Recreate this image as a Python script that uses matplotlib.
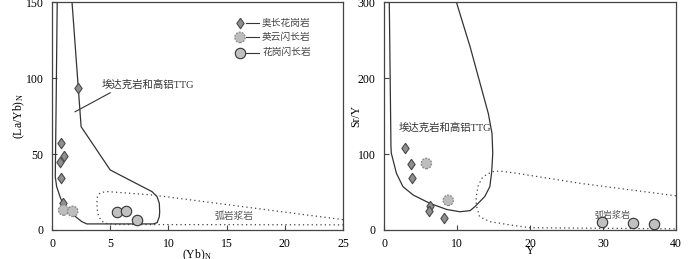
import matplotlib
matplotlib.use("Agg")
import matplotlib.pyplot as plt

# ---------------- data ----------------
# left panel: (Yb)N vs (La/Yb)N
trond_yb = [2.24, 0.75, 1.03, 0.66, 0.80, 0.95]
trond_layb = [93.7, 57.4, 48.6, 44.7, 34.4, 18.0]
tonal_yb = [1.0, 1.78]
tonal_layb = [13.1, 12.3]
grano_yb = [5.55, 6.32, 7.3]
grano_layb = [11.8, 12.3, 6.6]

# right panel: Y vs Sr/Y
trond_y = [2.84, 3.66, 3.8, 6.3, 6.1, 8.2]
trond_sry = [108, 87, 69, 31, 25, 15.6]
tonal_y = [5.8, 8.8]
tonal_sry = [87.5, 39]
grano_y = [29.9, 34.1, 37.0]
grano_sry = [10, 8.8, 7.5]

# field boundaries (left)
ttg_l_x = [0.45, 0.35, 0.28, 0.40, 0.69, 0.97, 1.40, 1.84, 2.56, 2.99, 8.7, 9.03, 9.22, 9.25, 9.22, 9.03, 8.6, 5.0, 2.5, 1.70]
ttg_l_y = [152, 80, 35, 28.5, 21.9, 16.4, 12.8, 9.9, 5.5, 4.0, 4.0, 4.8, 8.8, 12.0, 17.5, 21.9, 25.2, 39.5, 68, 152]
arc_l_x = [25, 8.7, 4.7, 4.14, 3.9, 3.85, 3.9, 4.0, 4.3, 4.57, 5.5, 25]
arc_l_y = [6.8, 23.0, 25.3, 24.5, 22.0, 18.0, 13.0, 8.8, 5.8, 4.4, 3.6, 3.4]

# field boundaries (right)
ttg_r_x = [0.72, 0.95, 1.0, 1.7, 2.6, 4.0, 6.3, 8.6, 10.4, 11.8, 12.45, 13.8, 14.5, 14.75, 14.9, 14.8, 14.3, 11.8, 9.85]
ttg_r_y = [302, 110, 101, 74.6, 57, 46, 35, 27, 24, 25.5, 30.7, 44, 57, 76, 101, 127, 153, 241, 302]
arc_r_x = [40, 26.9, 18.2, 15.9, 15.0, 14.1, 13.4, 12.9, 12.7, 12.6, 12.7, 13.1, 14.5, 17.3, 20, 40]
arc_r_y = [45, 61.4, 74.6, 77.5, 77.0, 73.5, 68, 58, 48, 38, 30.7, 17.5, 11, 6.6, 3.0, 1.5]

legend_labels = ["奥长花岗岩", "英云闪长岩", "花岗闪长岩"]
field_ttg = "埃达克岩和高铝TTG"
field_arc = "弧岩浆岩"

# ---------------- styles ----------------
FONT = ["Liberation Serif", "Noto Sans CJK SC"]
plt.rcParams["font.family"] = FONT
plt.rcParams["mathtext.fontset"] = "stix"

diamond = [(0, 1), (0.7, 0), (0, -1), (-0.7, 0), (0, 1)]
dia = dict(marker=diamond, ms=7.5, mfc="#8f8f8f", mec="#4a4a4a", mew=0.8, ls="none", zorder=5)
cir = dict(marker="o", ms=7.5, mfc="#c0c0c0", mec="#333333", mew=0.8, ls="none", zorder=5)
dsh = dict(marker="o", s=56, facecolor="#bdbdbd", edgecolor="#8a8a8a", linewidths=0.9,
           linestyles=(0, (1.5, 1)), zorder=5)
line_kw = dict(color="#333333", lw=0.9, zorder=2)
dot_kw = dict(color="#444444", lw=0.9, ls=(0, (1, 2.5)), zorder=2)

fig = plt.figure(figsize=(7, 2.59), dpi=100)
ax1 = fig.add_axes([0.0743, 0.112, 0.4157, 0.880])
ax2 = fig.add_axes([0.5486, 0.112, 0.417, 0.880])

for ax in (ax1, ax2):
    for sp in ax.spines.values():
        sp.set_color("#444444")
        sp.set_linewidth(0.9)
    ax.tick_params(direction="in", length=3.5, width=0.8, color="#444444",
                   labelsize=8.5, pad=6)

# ---- left panel ----
ax1.plot(ttg_l_x, ttg_l_y, **line_kw)
ax1.plot(arc_l_x, arc_l_y, **dot_kw)
ax1.plot(trond_yb, trond_layb, **dia)
ax1.scatter(tonal_yb, tonal_layb, **dsh)
ax1.plot(grano_yb, grano_layb, **cir)
ax1.plot([1.98, 5.0], [77.8, 90.3], color="#333333", lw=0.8)
ax1.text(4.3, 95.4, field_ttg, fontsize=7.5, va="center", ha="left", color="#333333")
ax1.text(15.6, 8.8, field_arc, fontsize=7, va="center", ha="center", color="#555555")
ax1.set_xlim(0, 25)
ax1.set_ylim(0, 150)
ax1.set_xticks([0, 5, 10, 15, 20, 25])
ax1.set_yticks([0, 50, 100, 150])
ax1.set_xlabel("(Yb)$_\\mathregular{N}$", fontsize=8.5, labelpad=-2)
ax1.set_ylabel("(La/Yb)$_\\mathregular{N}$", fontsize=8.5, labelpad=-1)

# legend drawn by hand: marker, short line, label
rows = [0.909, 0.845, 0.778]
ax1.plot([0.646], [rows[0]], transform=ax1.transAxes, clip_on=False, **dia)
ax1.scatter([0.646], [rows[1]], transform=ax1.transAxes, clip_on=False, **dsh)
ax1.plot([0.646], [rows[2]], transform=ax1.transAxes, clip_on=False, **cir)
for r, lab in zip(rows, legend_labels):
    ax1.plot([0.667, 0.713], [r, r], transform=ax1.transAxes, color="#333333", lw=0.8)
    ax1.text(0.722, r, lab, transform=ax1.transAxes, fontsize=7, va="center",
             ha="left", color="#444444")

# ---- right panel ----
ax2.plot(ttg_r_x, ttg_r_y, **line_kw)
ax2.plot(arc_r_x, arc_r_y, **dot_kw)
ax2.plot(trond_y, trond_sry, **dia)
ax2.scatter(tonal_y, tonal_sry, **dsh)
ax2.plot(grano_y, grano_sry, **cir)
ax2.text(2.0, 134.6, field_ttg, fontsize=7.5, va="center", ha="left", color="#333333")
ax2.text(31.3, 19.7, field_arc, fontsize=6.5, va="center", ha="center", color="#555555")
ax2.set_xlim(0, 40)
ax2.set_ylim(0, 300)
ax2.set_xticks([0, 10, 20, 30, 40])
ax2.set_yticks([0, 100, 200, 300])
ax2.set_xlabel("Y", fontsize=8.5, labelpad=-4)
ax2.set_ylabel("Sr/Y", fontsize=8.5, labelpad=-3)

fig.savefig("out.png", dpi=100)
